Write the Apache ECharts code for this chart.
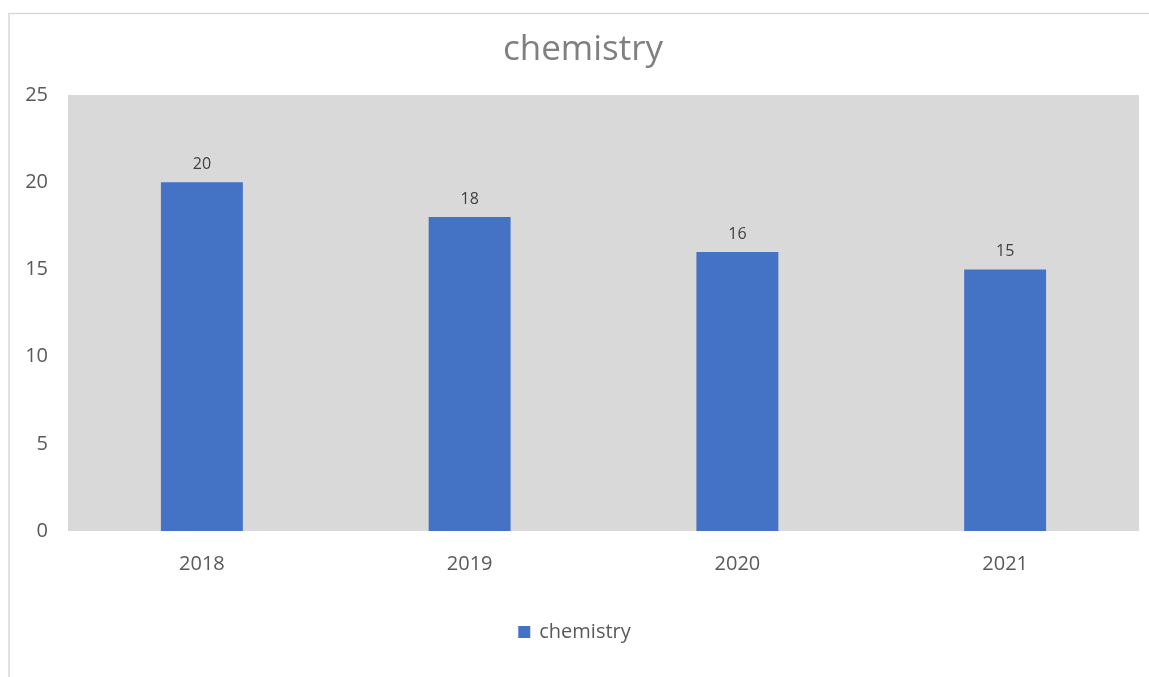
<!DOCTYPE html>
<html><head><meta charset="utf-8">
<script src="https://cdn.jsdelivr.net/npm/echarts@6/dist/echarts.min.js"></script>
<style>html,body{margin:0;padding:0;background:#fff;}#c{width:1149px;height:677px;}</style>
</head><body><div id="c"></div>
<script>
const categories = ['2018', '2019', '2020', '2021'];
const seriesName = 'chemistry';
const values = [20, 18, 16, 15];
const titleText = 'chemistry';

const chart = echarts.init(document.getElementById('c'));
const font = '"Open Sans", "Noto Sans", sans-serif';
chart.setOption({
  animation: false,
  backgroundColor: '#fff',
  graphic: [
    {type: 'polyline', shape: {points: [[9, 677], [9, 13.5], [1149, 13.5]]}, style: {stroke: '#d9d9d9', lineWidth: 1.5, fill: null}, silent: true}
  ],
  title: {
    text: titleText, left: 583, top: 33, textAlign: 'center', padding: 0,
    textStyle: {fontFamily: font, fontSize: 35, fontWeight: 'normal', color: '#808080'}
  },
  legend: {
    data: [seriesName], left: 'center', top: 622, itemWidth: 12, itemHeight: 12, icon: 'rect', padding: 0,
    textStyle: {fontFamily: font, fontSize: 20, color: '#595959', padding: [0, 0, 0, 4]}
  },
  grid: {left: 68, right: 10, top: 95, bottom: 146, show: true, backgroundColor: '#d9d9d9', borderWidth: 0},
  xAxis: {
    type: 'category', data: categories,
    axisLine: {show: false}, axisTick: {show: false},
    axisLabel: {fontFamily: font, fontSize: 20, color: '#595959', margin: 23}
  },
  yAxis: {
    type: 'value', min: 0, max: 25, interval: 5,
    splitLine: {show: false}, axisLine: {show: false}, axisTick: {show: false},
    axisLabel: {fontFamily: font, fontSize: 20, color: '#595959', margin: 20}
  },
  series: [{
    name: seriesName, type: 'bar', data: values, barWidth: '30.6%',
    itemStyle: {color: '#4472c4'},
    label: {show: true, position: 'top', distance: 10, fontFamily: font, fontSize: 16, color: '#404040'}
  }]
});
</script></body></html>
